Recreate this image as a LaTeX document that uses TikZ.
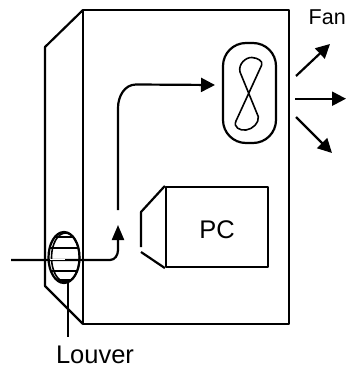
\documentclass[tikz,border=0pt]{standalone}
\usepackage{fontspec}
\setmainfont{Liberation Sans}
\usetikzlibrary{arrows.meta}
\tikzset{
  ln/.style={draw=black,line width=2.2pt,line join=round},
  thin ln/.style={draw=black,line width=1.6pt,line join=round},
  arr/.style={ln,-{Triangle[length=14pt,width=14pt]}},
  lbl/.style={inner sep=0pt,font=\fontsize{25.5}{25.5}\selectfont,anchor=base}
}
\begin{document}
\begin{tikzpicture}[x=1pt,y=-1pt]
\useasboundingbox (0,0) rectangle (346,369);
\clip (0,0) rectangle (346,369);
% cabinet
\draw[ln] (83,10) rectangle (289,324);
\draw[ln] (83,10) -- (45,47) -- (45,286) -- (83,324);
% PC
\node[ln,minimum width=102pt,minimum height=80pt,inner sep=0pt] (pc) at (217,227) {};
\node[lbl] (pct) at (217,238) {PC};
\draw[ln] (pc.north west) -- (141,212) -- (141,247);
\draw[ln] (141,252) -- (pc.south west);
% louver
\draw[ln,fill=white] (64,257.5) ellipse (15.5 and 25.5);
\draw[thin ln] (65.5,257.5) ellipse (14 and 24.5);
\foreach \yy/\xa/\xb in {237/55/73,248/50/78,271/50/78,280/58/70}
  \draw[thin ln] (\xa,\yy) -- (\xb,\yy);
\coordinate (in) at (11,260);
\coordinate (up) at (118,225);
\draw[ln,-{Triangle[length=15pt,width=12pt]}] (in) -- (110,260) to[out=0,in=270] (118,250) -- (up);
\draw[draw=white,line width=.7pt] (50,259.5) -- (65,259.5);
% louver lead
\coordinate (lv) at (68,283);
\coordinate (lvend) at (68,337);
\draw[ln] (lv) -- (lvend);
\node[lbl] (louver) at (95,363) {Louver};
% airflow
\coordinate (aa) at (118,210);
\coordinate (fanin) at (215,85);
\draw[arr] (aa) -- (118,108) to[out=90,in=180] (136,84.5) -- (fanin);
% fan
\node[ln,rounded corners=23pt,minimum width=53pt,minimum height=100pt,inner sep=0pt] (fan) at (249.5,93) {};
\draw[thin ln] (261.7,65) -- (236,121)
  .. controls (233,127) and (240,131) .. (246,130)
  .. controls (253,129) and (259,123) .. (258.3,116.7)
  -- (240,72)
  .. controls (238,64) and (246,57) .. (252,57.5)
  .. controls (258,58) and (263,61) .. (261.7,65) -- cycle;
% outflow
\node[lbl,anchor=base west] (fant) at (308.5,25) {\fontsize{21.5}{21.5}\selectfont Fan};
\coordinate (o1) at (296,76);  \coordinate (t1) at (330,44);
\coordinate (o2) at (295,98.7); \coordinate (t2) at (346,98.7);
\coordinate (o3) at (296,117); \coordinate (t3) at (332,153);
\draw[arr] (o1) -- (t1);
\draw[arr] (o2) -- (t2);
\draw[arr] (o3) -- (t3);
\end{tikzpicture}
\end{document}
